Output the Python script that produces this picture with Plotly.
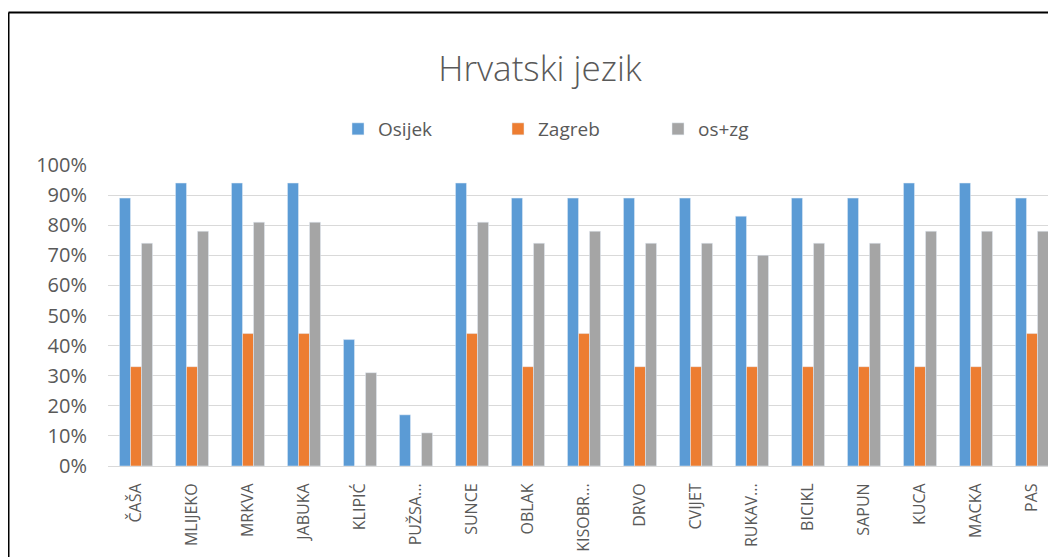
import plotly.graph_objects as go

categories = ["ČAŠA", "MLIJEKO", "MRKVA", "JABUKA", "KLIPIĆ", "PUŽSA...", "SUNCE", "OBLAK",
              "KISOBR...", "DRVO", "CVIJET", "RUKAV...", "BICIKL", "SAPUN", "KUCA", "MACKA", "PAS"]
osijek = [0.89, 0.94, 0.94, 0.94, 0.42, 0.17, 0.94, 0.89, 0.89, 0.89, 0.89, 0.83, 0.89, 0.89, 0.94, 0.94, 0.89]
zagreb = [0.33, 0.33, 0.44, 0.44, 0.0, 0.0, 0.44, 0.33, 0.44, 0.33, 0.33, 0.33, 0.33, 0.33, 0.33, 0.33, 0.44]
oszg = [0.74, 0.78, 0.81, 0.81, 0.31, 0.11, 0.81, 0.74, 0.78, 0.74, 0.74, 0.70, 0.74, 0.74, 0.78, 0.78, 0.78]
ytick_vals = [i / 10 for i in range(11)]
ytick_text = [f"{i*10}%" for i in range(11)]

W, H = 1056, 557
L, R, T, B = 100, 4, 157, 99
pw, ph = W - L - R, H - T - B

FONT = "Open Sans, Lato, Arial"
GREY = "#595959"

fig = go.Figure()
fig.add_bar(x=categories, y=osijek, name="Osijek", marker_color="#5B9BD5")
fig.add_bar(x=categories, y=zagreb, name="Zagreb", marker_color="#ED7D31")
fig.add_bar(x=categories, y=oszg, name="os+zg", marker_color="#A5A5A5")


def px_x(p):
    return (p - L) / pw


def px_y(p):
    return (H - B - p) / ph


fig.update_layout(
    width=W, height=H,
    margin=dict(l=L, r=R, t=T, b=B),
    paper_bgcolor="white", plot_bgcolor="white",
    barmode="group", bargap=0.41, bargroupgap=0.0,
    font=dict(family=FONT, color=GREY, size=16),
    title=dict(text="Hrvatski jezik", x=532 / W, xanchor="center", y=1 - 61 / H, yanchor="middle",
               font=dict(size=35, color=GREY, family=FONT, weight=300)),
    legend=dict(orientation="h", x=px_x(330), xanchor="left", y=px_y(121), yanchor="middle",
                entrywidth=115, entrywidthmode="pixels", font=dict(size=19, color=GREY),
                traceorder="normal"),
    xaxis=dict(tickangle=-90, showgrid=False, showline=True, linecolor="#D9D9D9",
               tickfont=dict(size=16, color=GREY), range=[-0.5, 16.5], ticks="",
               ticklabelstandoff=10),
    yaxis=dict(range=[0, 1.0], tickvals=ytick_vals, ticktext=ytick_text, showgrid=True,
               gridcolor="#D9D9D9", gridwidth=1, zeroline=False, showline=False,
               tickfont=dict(size=20, color=GREY), ticklabelstandoff=20),
    shapes=[
        dict(type="line", xref="paper", yref="paper", x0=px_x(0.5), x1=px_x(W + 10), y0=px_y(4.5), y1=px_y(4.5),
             line=dict(color="black", width=2)),
        dict(type="line", xref="paper", yref="paper", x0=px_x(0.5), x1=px_x(0.5), y0=px_y(4.5), y1=px_y(H + 10),
             line=dict(color="black", width=2)),
    ],
)

fig.write_html("out.html")
